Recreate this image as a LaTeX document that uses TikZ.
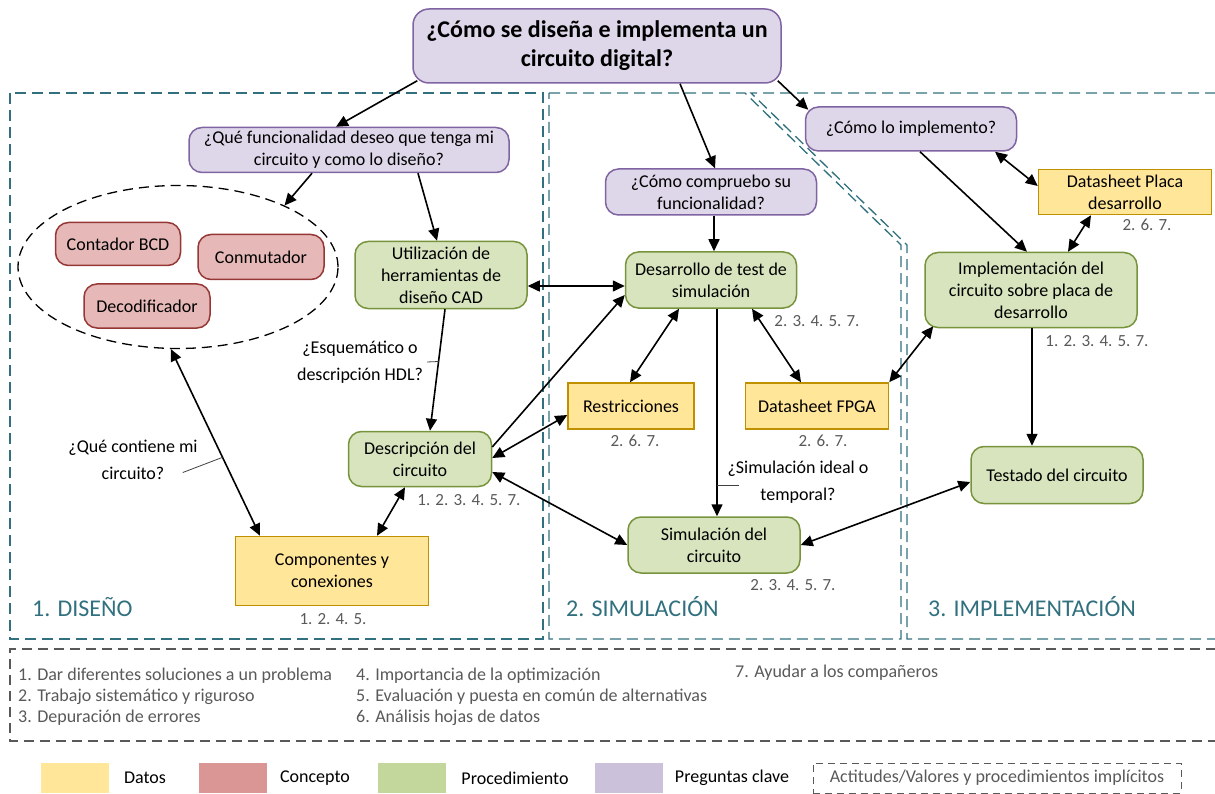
\documentclass[tikz,border=0pt]{standalone}
\usepackage{fontspec}
\setmainfont{Carlito}
\usetikzlibrary{arrows.meta,shapes.geometric}

% Colores de los bloques
\definecolor{preguntafill}{HTML}{DED7E9}
\definecolor{preguntadraw}{HTML}{8064A2}
\definecolor{conceptofill}{HTML}{E6B8B7}
\definecolor{conceptodraw}{HTML}{953735}
\definecolor{procfill}{HTML}{D7E4BD}
\definecolor{procdraw}{HTML}{77933C}
\definecolor{datosfill}{HTML}{FFE699}
\definecolor{datosdraw}{HTML}{BF9000}
\definecolor{bloque}{HTML}{31707E}
\definecolor{gris}{HTML}{595959}
\definecolor{ldatos}{HTML}{FFE699}
\definecolor{lconcepto}{HTML}{D99694}
\definecolor{lproc}{HTML}{C3D69B}
\definecolor{lpregunta}{HTML}{CCC1DA}

\tikzset{
    caja/.style={rounded corners=13pt, line width=1.5pt, align=center, inner sep=2pt,
        font=\fontsize{18}{22}\selectfont},
    pregunta/.style={caja, fill=preguntafill, draw=preguntadraw},
    concepto/.style={caja, fill=conceptofill, draw=conceptodraw},
    proced/.style={caja, fill=procfill, draw=procdraw},
    datos/.style={caja, sharp corners, fill=datosfill, draw=datosdraw},
    flecha/.style={line width=1.6pt, -{Triangle[length=12pt,width=11pt]}},
    doble/.style={line width=1.6pt, {Triangle[length=12pt,width=11pt]}-{Triangle[length=12pt,width=11pt]}},
    nums/.style={text=gris, font=\fontsize{17}{20}\selectfont, inner sep=0pt},
    etiqueta/.style={align=center, font=\fontsize{18}{27}\selectfont, inner sep=0pt},
    marca/.style={line width=0.8pt, black!75},
    bloquedash/.style={draw=bloque, line width=1.3pt, dash pattern=on 11pt off 6pt},
    bloquetxt/.style={text=bloque, font=\fontsize{24}{28}\selectfont, anchor=west, inner sep=0pt},
    leyenda/.style={text=gris, font=\fontsize{18}{21}\selectfont, anchor=west, inner sep=0pt},
}

\begin{document}
\begin{tikzpicture}[x=1pt,y=-1pt]

    \useasboundingbox (0,0) rectangle (1215,794);

    % Define the three dashed blocks
    \draw[bloquedash] (10,93) rectangle (543,639);
    \draw[bloquedash] (549,93) -- (745,93) -- (901,245) -- (901,639) -- (549,639) -- cycle;
    \draw[bloquedash] (1216,93) -- (751,93) -- (907,245) -- (907,639) -- (1216,639);

    \node[bloquetxt] (diseno) at (32,607) {1. DISEÑO};
    \node[bloquetxt] (simulacion) at (566,607) {2. SIMULACIÓN};
    \node[bloquetxt] (implementacion) at (928,607) {3. IMPLEMENTACIÓN};

    % Main question
    \node[pregunta, rounded corners=16pt, minimum width=368pt, minimum height=74pt,
        font=\bfseries\fontsize{24}{29}\selectfont] (titulo) at (597,46)
        {¿Cómo se diseña e implementa un\\circuito digital?};

    % 1. Diseño
    \node[pregunta, minimum width=320pt, minimum height=45pt] (q1) at (349,150)
        {¿Qué funcionalidad deseo que tenga mi\\circuito y como lo diseño?};
    \node[ellipse, draw, line width=1.3pt, dash pattern=on 10pt off 6pt,
        minimum width=320pt, minimum height=163pt] (grupo) at (178,267) {};
    \node[concepto, minimum width=125pt, minimum height=43pt] (contador) at (118,244) {Contador BCD};
    \node[concepto, minimum width=126pt, minimum height=45pt] (conmutador) at (261,257) {Conmutador};
    \node[concepto, minimum width=126pt, minimum height=44pt] (decodificador) at (147,306) {Decodificador};
    \node[proced, minimum width=172pt, minimum height=67pt] (util) at (441,275)
        {Utilización de\\herramientas de\\diseño CAD};
    \node[proced, minimum width=143pt, minimum height=55pt] (desc) at (420,459)
        {Descripción del\\circuito};
    \node[datos, minimum width=193pt, minimum height=69pt] (comp) at (332,571)
        {Componentes y\\conexiones};

    % 2. Simulación
    \node[pregunta, minimum width=211pt, minimum height=46pt] (q2) at (711,192)
        {¿Cómo compruebo su\\funcionalidad?};
    \node[proced, minimum width=171pt, minimum height=56pt] (desar) at (711,280)
        {Desarrollo de test de\\simulación};
    \node[datos, minimum width=126pt, minimum height=46pt] (restr) at (631,406) {Restricciones};
    \node[datos, minimum width=143pt, minimum height=46pt] (fpga) at (817,406) {Datasheet FPGA};
    \node[proced, minimum width=172pt, minimum height=56pt] (sim) at (714,545)
        {Simulación del\\circuito};

    % 3. Implementación
    \node[pregunta, minimum width=211pt, minimum height=44pt] (q3) at (911,129) {¿Cómo lo implemento?};
    \node[datos, minimum width=173pt, minimum height=45pt] (placa) at (1125,192)
        {Datasheet Placa\\desarrollo};
    \node[proced, minimum width=212pt, minimum height=75pt] (impl) at (1031,290)
        {Implementación del\\circuito sobre placa de\\desarrollo};
    \node[proced, minimum width=172pt, minimum height=57pt] (test) at (1057,475) {Testado del circuito};

    % Actitudes de cada bloque
    \foreach \x/\y/\t [count=\k] in {
        333/619/1. 2. 4. 5.,
        469/500/1. 2. 3. 4. 5. 7.,
        817/321/2. 3. 4. 5. 7.,
        635/441/2. 6. 7.,
        823/441/2. 6. 7.,
        793/585/2. 3. 4. 5. 7.,
        1147/225/2. 6. 7.,
        1097/341/1. 2. 3. 4. 5. 7.
    } {
        \node[nums] (num\k) at (\x,\y) {\t};
    }

    % Labels on connectors
    \node[etiqueta] (esq) at (360,362) {¿Esquemático o\\descripción HDL?};
    \node[etiqueta] (qc) at (133,460) {¿Qué contiene mi\\circuito?};
    \node[etiqueta] (simlab) at (798,482) {¿Simulación ideal o\\temporal?};

    % Connectors
    \draw[flecha] ([xshift=5pt,yshift=3pt]titulo.south west) -- ([xshift=-13pt]q1.north);
    \draw[flecha] ([xshift=83pt]titulo.south) -- ([xshift=4pt]q2.north);
    \draw[flecha] ([xshift=-4pt,yshift=3pt]titulo.south east) -- ([xshift=3.5pt,yshift=-3.5pt]q3.north west);

    \draw[flecha] ([xshift=-37pt]q1.south) -- (grupo.30);
    \draw[flecha] ([xshift=69pt]q1.south) -- ([xshift=-4pt]util.north);
    \draw[flecha] ([xshift=4pt]util.south) -- coordinate[pos=.43] (t1) ([xshift=10pt]desc.north);
    \draw[marca] (t1) -- ([xshift=4pt]esq.east);
    \draw[doble] (grupo.265) -- coordinate[pos=.58] (t2) ([xshift=-72pt]comp.north);
    \draw[marca] (t2) -- ([xshift=-15pt,yshift=-12.5pt]qc.east);
    \draw[doble] ([xshift=-15pt]desc.south) -- ([xshift=45pt]comp.north);

    \draw[doble] ([yshift=-11pt]util.east) -- ([yshift=-6pt]desar.west);
    \draw[flecha] ([yshift=12pt]desc.east) -- ([yshift=-15pt]desar.west);
    \draw[doble] ([yshift=1pt]desc.east) -- ([yshift=-9pt]restr.west);
    \draw[doble] ([yshift=-13pt]desc.east) -- (sim.west);
    \draw[flecha] ([xshift=3pt]q2.south) -- ([xshift=3pt]desar.north);
    \draw[doble] ([xshift=-32pt]desar.south) -- ([xshift=-1pt]restr.north);
    \draw[doble] ([xshift=41pt]desar.south) -- ([xshift=-16pt]fpga.north);
    \draw[flecha] ([xshift=6pt]desar.south) -- coordinate[pos=.85] (t3) ([xshift=3pt]sim.north);
    \draw[marca] (t3) -- ++(22pt,0pt);

    \draw[doble] (fpga.north east) -- ([xshift=9pt,yshift=2pt]impl.south west);
    \draw[doble] (sim.east) -- ([yshift=-7pt]test.west);
    \draw[flecha] ([xshift=9pt]q3.south) -- ([xshift=-4pt]impl.north);
    \draw[doble] ([xshift=84pt]q3.south) -- ([yshift=6pt]placa.west);
    \draw[doble] ([xshift=-34pt]placa.south) -- ([xshift=37pt]impl.north);
    \draw[flecha] ([xshift=1pt]impl.south) -- ([xshift=-25pt]test.north);

    % Actitudes / valores
    \draw[gris, line width=1.2pt, dash pattern=on 10pt off 6pt] (1216,649) -- (10,649) -- (10,741) -- (1216,741);
    \foreach \x/\y/\t [count=\k] in {
        18/676/1. Dar diferentes soluciones a un problema,
        18/697/2. Trabajo sistemático y riguroso,
        18/718/3. Depuración de errores,
        356/676/4. Importancia de la optimización,
        356/697/5. Evaluación y puesta en común de alternativas,
        356/718/6. Análisis hojas de datos,
        735/673/7. Ayudar a los compañeros
    } {
        \node[leyenda] (act\k) at (\x,\y) {\t};
    }

    % Leyenda
    \foreach \x/\c [count=\k] in {41/ldatos, 199/lconcepto, 378/lproc, 595/lpregunta} {
        \node[fill=\c, minimum width=68pt, minimum height=30pt, inner sep=0pt, anchor=north west] (muestra\k) at (\x,763) {};
    }
    \foreach \x/\t [count=\k] in {145/Datos, 315/Concepto, 515/Procedimiento, 732/Preguntas clave} {
        \node[font=\fontsize{18}{21}\selectfont, inner sep=0pt] (tipo\k) at (\x,778) {\t};
    }
    \node[draw=gris, line width=1pt, dash pattern=on 7pt off 5pt, minimum width=368pt, minimum height=30pt,
        text=gris, font=\fontsize{18}{21}\selectfont] (actitudes) at (997,778)
        {Actitudes/Valores y procedimientos implícitos};

\end{tikzpicture}
\end{document}
